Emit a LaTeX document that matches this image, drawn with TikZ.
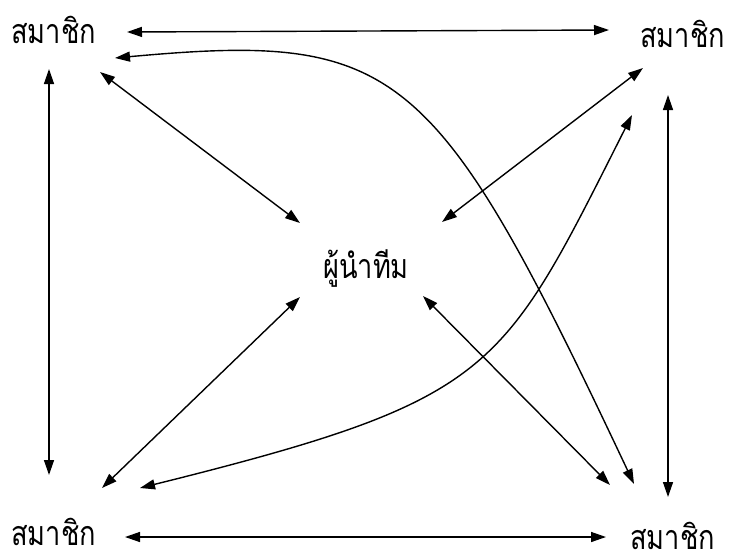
\documentclass[tikz,border=0pt]{standalone}
\usepackage{fontspec}
\newfontfamily\thaifont[Script=Thai,FakeStretch=0.8]{Loma}
\usetikzlibrary{arrows.meta}
\tikzset{
  lbl/.style={font=\thaifont\fontsize{34}{40}\selectfont, inner sep=0pt, anchor=base west},
  biarrow/.style={{Triangle[length=15pt,width=10pt]}-{Triangle[length=15pt,width=10pt]}, line width=1.4pt},
}
\begin{document}
\begin{tikzpicture}[x=1pt,y=-1pt]
\useasboundingbox (0,0) rectangle (736,555);
% labels
\node[lbl] (tl) at (11,43) {สมาชิก};
\node[lbl] (tr) at (640,47) {สมาชิก};
\node[lbl] (bl) at (11,545) {สมาชิก};
\node[lbl] (br) at (630,549) {สมาชิก};
\node[lbl] (c) at (323,278) {ผู้นำทีม};
% endpoints
\coordinate (t1) at (127,32);
\coordinate (t2) at (609,30);
\coordinate (b1) at (125,537);
\coordinate (b2) at (606,537);
\coordinate (l1) at (49,69);
\coordinate (l2) at (49,475);
\coordinate (r1) at (668,95);
\coordinate (r2) at (668,497);
\coordinate (d1a) at (100,72);
\coordinate (d1b) at (300,223);
\coordinate (d2a) at (643,68);
\coordinate (d2b) at (442,222);
\coordinate (d3a) at (102,488);
\coordinate (d3b) at (300,297);
\coordinate (d4a) at (610,485);
\coordinate (d4b) at (423,296);
\coordinate (ca1) at (115,58);
\coordinate (ca2) at (634,484);
\coordinate (cb1) at (140,488);
\coordinate (cb2) at (632,115);
% connectors
\draw[biarrow] (t1) -- (t2);
\draw[biarrow] (b1) -- (b2);
\draw[biarrow] (l1) -- (l2);
\draw[biarrow] (r1) -- (r2);
\draw[biarrow] (d1a) -- (d1b);
\draw[biarrow] (d2a) -- (d2b);
\draw[biarrow] (d3a) -- (d3b);
\draw[biarrow] (d4a) -- (d4b);
\draw[biarrow] (ca1) .. controls (399,32) and (435,62) .. (ca2);
\draw[biarrow] (cb1) .. controls (497,399) and (501,374) .. (cb2);
\end{tikzpicture}
\end{document}
